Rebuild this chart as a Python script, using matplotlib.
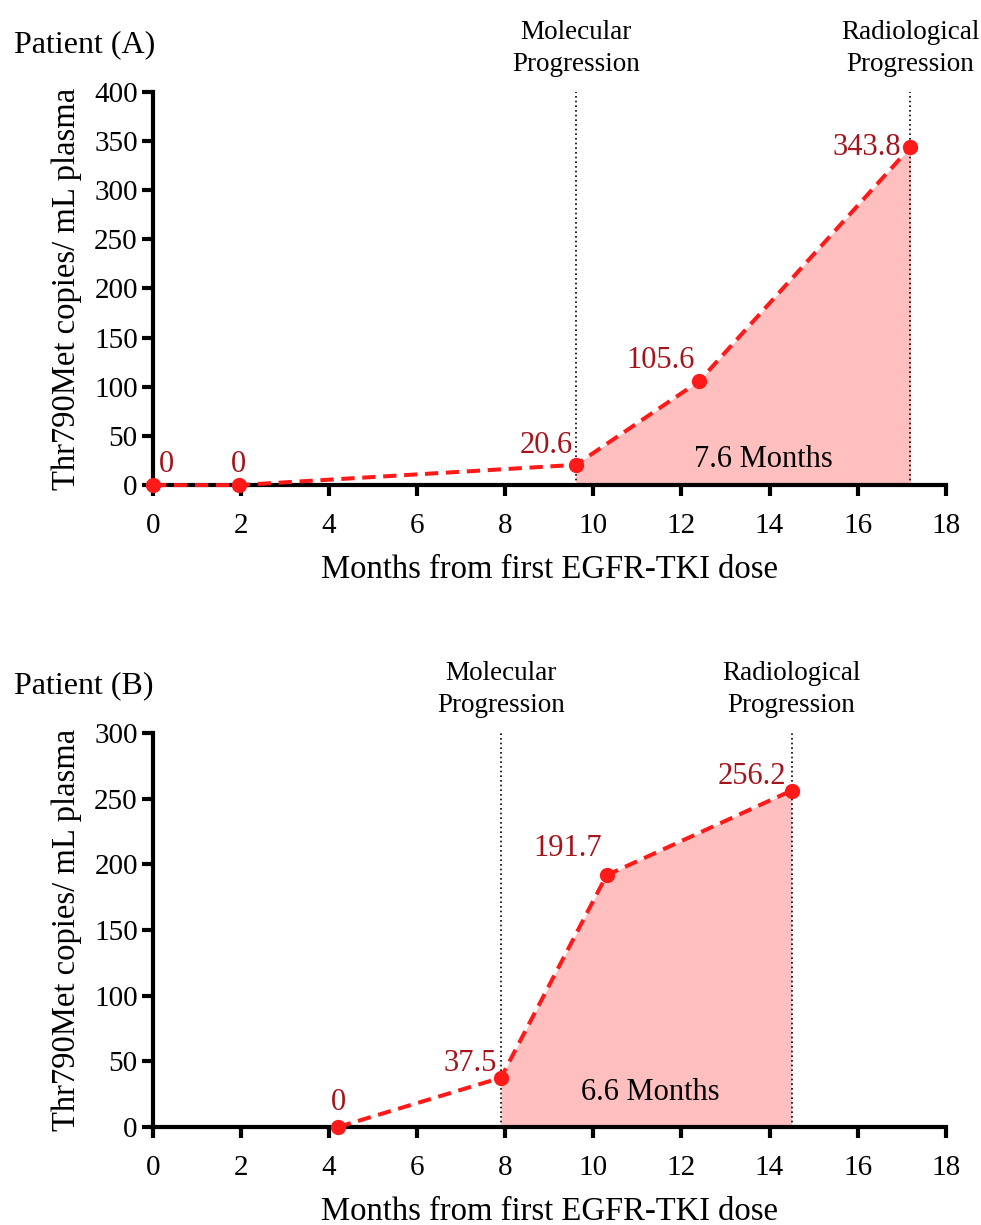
import numpy as np
import matplotlib
matplotlib.use("Agg")
import matplotlib.pyplot as plt

plt.rcParams['font.family'] = ['Liberation Serif', 'DejaVu Serif']

# Patient A
months_a = [0, 1.95, 9.6, 12.4, 17.2]
copies_a = [0, 0, 20.6, 105.6, 343.8]
labels_a = ["0", "0", "20.6", "105.6", "343.8"]
mol_a, rad_a = 9.6, 17.2

# Patient B
months_b = [4.2, 7.9, 10.3, 14.5]
copies_b = [0, 37.5, 191.7, 256.2]
labels_b = ["0", "37.5", "191.7", "256.2"]
mol_b, rad_b = 7.9, 14.5

FS_TICK = 21
FS_LABEL = 23.5
FS_VAL = 22
FS_NOTE = 19.5
LINE_RED = '#ff1a1a'
TEXT_RED = '#a3141c'
FILL = '#ffbfbf'

fig = plt.figure(figsize=(9.81, 12.25), dpi=100)


def draw_panel(ax, months, copies, labels, offsets, mol, rad, ymax, span_text, span_pos, patient):
    months = np.array(months)
    copies = np.array(copies)
    # shaded area between molecular and radiological progression
    m = months >= mol - 1e-9
    ax.fill_between(months[m], 0, copies[m], color=FILL, lw=0, zorder=1)
    ax.axvline(mol, color='black', ls=(0, (1, 1.8)), lw=1.2, zorder=2)
    ax.axvline(rad, color='black', ls=(0, (1, 1.8)), lw=1.2, zorder=2)
    ax.plot(months, copies, color=LINE_RED, ls=(0, (3.3, 1.9)), lw=2.9,
            marker='o', ms=10, mec=LINE_RED, mfc=LINE_RED, clip_on=False, zorder=5)
    for x, y, t, (dx, dy, ha) in zip(months, copies, labels, offsets):
        ax.annotate(t, (x, y), xytext=(dx, dy), textcoords='offset points',
                    ha=ha, va='center', color=TEXT_RED, fontsize=FS_VAL, zorder=6)
    ax.text(span_pos[0], span_pos[1], span_text, ha='center', va='center', fontsize=FS_VAL, zorder=6)

    for x, t in [(mol, "Molecular\nProgression"), (rad, "Radiological\nProgression")]:
        ax.annotate(t, (x, ymax), xytext=(0, 11), textcoords='offset points',
                    ha='center', va='bottom', fontsize=FS_NOTE, linespacing=1.35,
                    annotation_clip=False)

    ax.set_xlim(0, 18)
    ax.set_ylim(0, ymax)
    ax.set_xticks(np.arange(0, 19, 2))
    ax.set_yticks(np.arange(0, ymax + 1, 50))
    for s in ['top', 'right']:
        ax.spines[s].set_visible(False)
    for s in ['left', 'bottom']:
        ax.spines[s].set_linewidth(3)
    ax.tick_params(axis='both', length=8, width=3, labelsize=FS_TICK)
    ax.tick_params(axis='x', pad=12)
    ax.tick_params(axis='y', pad=3)
    ax.set_xlabel("Months from first EGFR-TKI dose", fontsize=FS_LABEL, labelpad=11)
    ax.set_ylabel("Thr790Met copies/ mL plasma", fontsize=FS_LABEL, labelpad=9)
    ax.text(-0.176, 1.12, patient, transform=ax.transAxes, fontsize=FS_LABEL - 0.5,
            va='center', ha='left')


ax_a = fig.add_axes([0.156, 0.604, 0.808, 0.321])
draw_panel(ax_a, months_a, copies_a, labels_a,
           [(4, 15, 'left'), (0, 15, 'center'), (-2, 14, 'right'), (-3, 15, 'right'), (-7, 0, 'right')],
           mol_a, rad_a, 400, "7.6 Months", (13.85, 26.5), "Patient (A)")

ax_b = fig.add_axes([0.156, 0.080, 0.808, 0.3216])
draw_panel(ax_b, months_b, copies_b, labels_b,
           [(0, 18, 'center'), (-3, 10, 'right'), (-3, 19, 'right'), (-4, 10, 'right')],
           mol_b, rad_b, 300, "6.6 Months", (11.3, 26), "Patient (B)")

fig.savefig("out.png", dpi=100)
